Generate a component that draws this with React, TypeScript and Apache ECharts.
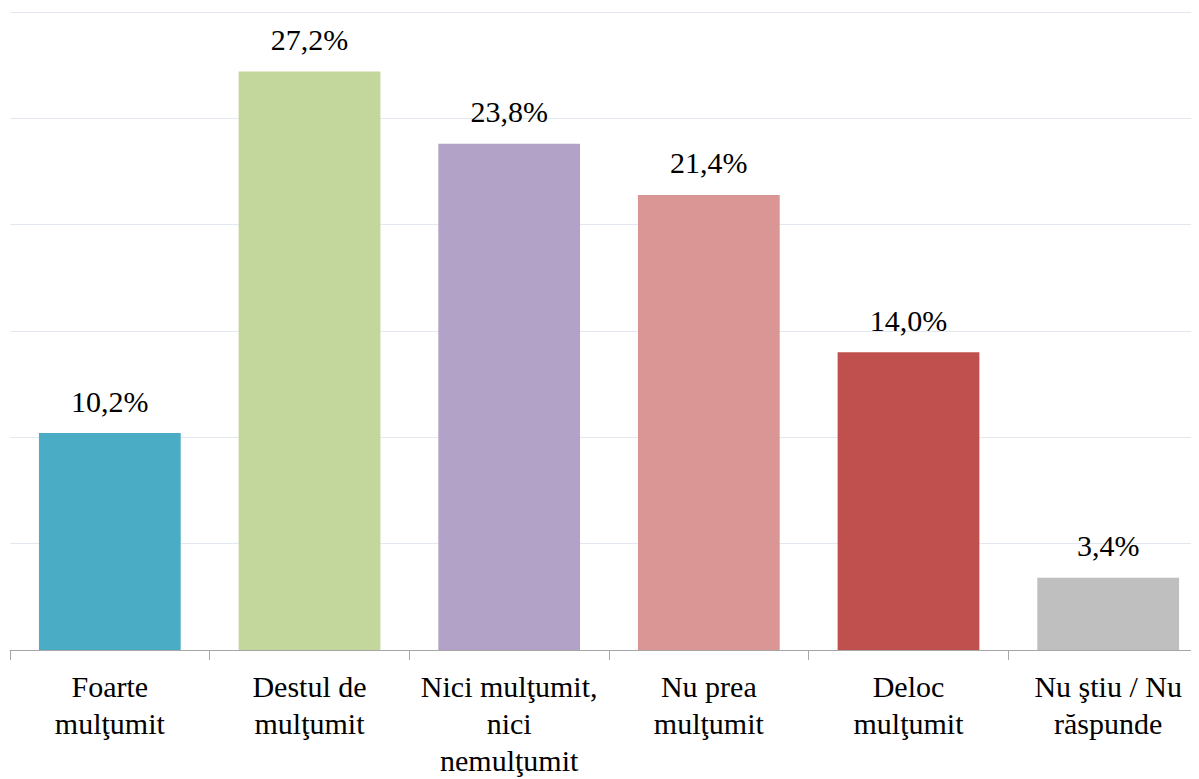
import React, { useEffect, useRef } from "react";
import * as echarts from "echarts";

const categories = [
  "Foarte\nmulţumit",
  "Destul de\nmulţumit",
  "Nici mulţumit,\nnici\nnemulţumit",
  "Nu prea\nmulţumit",
  "Deloc\nmulţumit",
  "Nu ştiu / Nu\nrăspunde",
];
const values = [10.2, 27.2, 23.8, 21.4, 14.0, 3.4];
const colors = ["#4BACC6", "#C3D69B", "#B3A2C7", "#D99694", "#C0504D", "#BFBFBF"];
const yMin = 0;
const yMax = 30;
const yInterval = 5;

const FONT = "Liberation Serif, Times New Roman, serif";

export default function App() {
  const ref = useRef<HTMLDivElement>(null);
  useEffect(() => {
    if (!ref.current) return;
    const chart = echarts.init(ref.current, undefined, { renderer: "svg" });
    chart.setOption({
      animation: false,
      textStyle: { fontFamily: FONT },
      grid: { left: 2, right: 10, top: 4, bottom: 120, containLabel: false },
      xAxis: {
        type: "category",
        data: categories,
        axisLine: { show: true, lineStyle: { color: "#A6A6A6", width: 1 } },
        axisTick: { show: true, length: 10, alignWithLabel: false, lineStyle: { color: "#A6A6A6" } },
        axisLabel: {
          interval: 0,
          margin: 18,
          color: "#000",
          fontFamily: FONT,
          fontSize: 30,
          lineHeight: 37,
        },
      },
      yAxis: {
        type: "value",
        min: yMin,
        max: yMax,
        interval: yInterval,
        axisLabel: { show: false },
        axisLine: { show: false },
        axisTick: { show: false },
        splitLine: { show: true, lineStyle: { color: "#E3E8F0", width: 1 } },
      },
      series: [
        {
          type: "bar",
          barWidth: "71%",
          data: values.map((v, i) => ({ value: v, itemStyle: { color: colors[i] } })),
          label: {
            show: true,
            position: "top",
            distance: 17,
            color: "#000",
            fontFamily: FONT,
            fontSize: 30,
            formatter: (p: any) => p.value.toFixed(1).replace(".", ",") + "%",
          },
        },
      ],
    });
    return () => chart.dispose();
  }, []);
  return (
    <div style={{ width: 1191, height: 771, overflow: "hidden" }}>
      <div ref={ref} style={{ width: 1210, height: 771 }} />
    </div>
  );
}
